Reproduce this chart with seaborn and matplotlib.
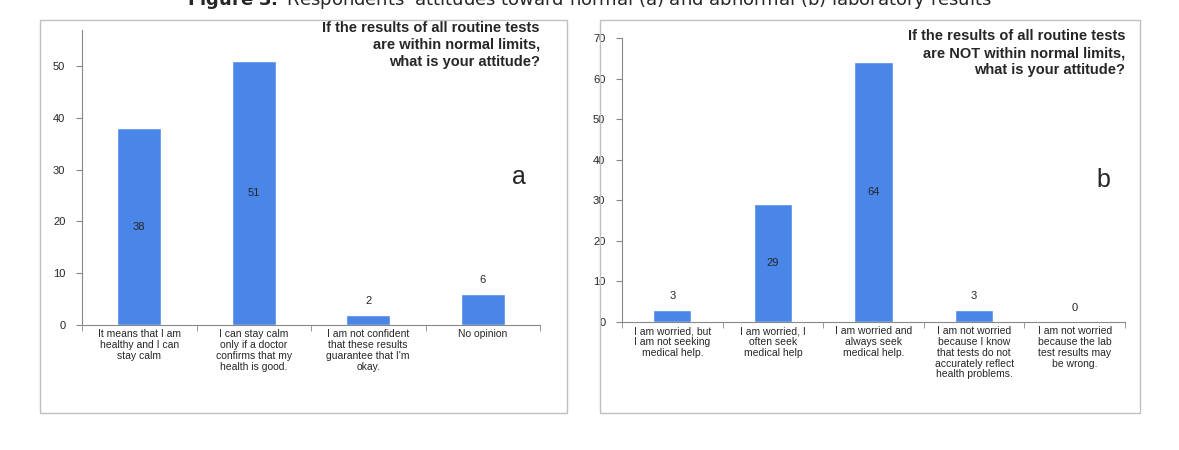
import matplotlib
matplotlib.use("Agg")
import matplotlib.pyplot as plt
import seaborn as sns
import numpy as np
from matplotlib.patches import Rectangle

sns.set_style("white", {"xtick.bottom": True, "ytick.left": True})
plt.rcParams["font.family"] = ["Liberation Sans", "DejaVu Sans"]

# Data
cats_a = ["It means that I am\nhealthy and I can\nstay calm",
          "I can stay calm\nonly if a doctor\nconfirms that my\nhealth is good.",
          "I am not confident\nthat these results\nguarantee that I'm\nokay.",
          "No opinion"]
vals_a = [38, 51, 2, 6]
cats_b = ["I am worried, but\nI am not seeking\nmedical help.",
          "I am worried, I\noften seek\nmedical help",
          "I am worried and\nalways seek\nmedical help.",
          "I am not worried\nbecause I know\nthat tests do not\naccurately reflect\nhealth problems.",
          "I am not worried\nbecause the lab\ntest results may\nbe wrong."]
vals_b = [3, 29, 64, 3, 0]

blue = "#4a86e8"
W, H = 1179, 450
fig = plt.figure(figsize=(W / 100, H / 100), dpi=100)

def px(x0, y0, x1, y1):
    return [x0 / W, 1 - y1 / H, (x1 - x0) / W, (y1 - y0) / H]

# panel frames
for x0, y0, x1, y1 in [(40, 20, 567, 413), (600, 20, 1140, 413)]:
    fig.patches.append(Rectangle((x0 / W, 1 - y1 / H), (x1 - x0) / W, (y1 - y0) / H,
                                 transform=fig.transFigure, fill=False,
                                 edgecolor="#c0c0c0", lw=1))

fig.text(0.5, 1.0, r"$\bf{Figure\ 3.}$ Respondents' attitudes toward normal (a) and abnormal (b) laboratory results",
         ha="center", va="center", fontsize=13, family="DejaVu Sans")

def panel(rect, cats, vals, ymax, step, title, letter, thresh):
    ax = fig.add_axes(rect)
    sns.barplot(x=list(range(len(vals))), y=vals, color=blue, width=0.38,
                saturation=1, ax=ax)
    ax.set_ylim(0, ymax)
    ax.set_xlim(-0.5, len(vals) - 0.5)
    ax.set_yticks(np.arange(0, ymax + 0.1, step))
    ax.set_xticks(range(len(vals)))
    ax.set_xticklabels(cats, fontsize=7.5, linespacing=1.1)
    ax.set_xticks(np.arange(-0.5, len(vals), 1), minor=True)
    ax.tick_params(axis="x", which="major", length=0, pad=3)
    ax.tick_params(axis="x", which="minor", bottom=True, length=4, color="#888888")
    ax.tick_params(axis="y", labelsize=8, length=4, color="#888888", pad=8)
    for s in ["top", "right"]:
        ax.spines[s].set_visible(False)
    for s in ["left", "bottom"]:
        ax.spines[s].set_color("#888888")
    for i, v in enumerate(vals):
        if v > thresh:
            ax.text(i, v / 2, str(v), ha="center", va="center", fontsize=8)
        else:
            ax.text(i, v + ymax * 0.03, str(v), ha="center", va="bottom", fontsize=8)
    ax.text(1.0, 1.03, title, transform=ax.transAxes, ha="right", va="top",
            fontsize=10.5, fontweight="bold", linespacing=1.25)
    ax.text(0.97, 0.5, letter, transform=ax.transAxes, ha="right", va="center",
            fontsize=18)
    return ax

panel(px(82, 30, 540, 325), cats_a, vals_a, 57, 10,
      "If the results of all routine tests\nare within normal limits,\nwhat is your attitude?", "a", 10)
panel(px(622, 38, 1125, 322), cats_b, vals_b, 70, 10,
      "If the results of all routine tests\nare NOT within normal limits,\nwhat is your attitude?", "b", 10)

fig.savefig("out.png", dpi=100)
